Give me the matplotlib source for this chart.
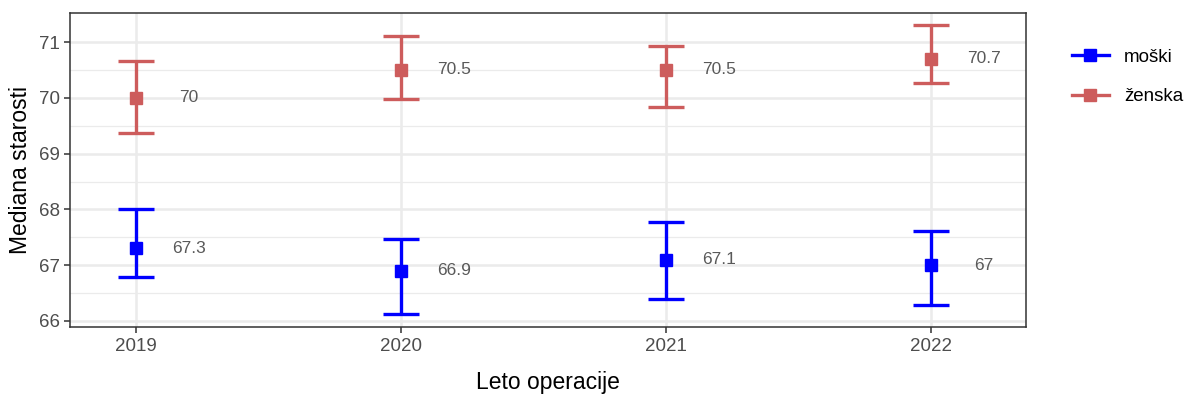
import numpy as np
import matplotlib.pyplot as plt
from matplotlib.lines import Line2D

plt.rcParams['font.family'] = ['Liberation Sans', 'DejaVu Sans']

# median age by year of operation, with interval bounds
years = [2019, 2020, 2021, 2022]
moski = [67.3, 66.9, 67.1, 67.0]
moski_lo = [66.79, 66.13, 66.40, 66.28]
moski_hi = [68.01, 67.47, 67.78, 67.61]
zenska = [70.0, 70.5, 70.5, 70.7]
zenska_lo = [69.37, 69.98, 69.84, 70.27]
zenska_hi = [70.66, 71.11, 70.93, 71.30]

blue = '#0000FF'
red = '#CD5C5C'

fig = plt.figure(figsize=(11.85, 3.96), dpi=100)
ax = fig.add_axes([0.0591, 0.174, 0.8067, 0.793])

def draw(vals, lo, hi, col):
    vals = np.array(vals)
    err = [vals - np.array(lo), np.array(hi) - vals]
    ax.errorbar(years, vals, yerr=err, fmt='s', color=col, ms=8,
                elinewidth=2.4, capsize=13, capthick=2.4, zorder=3)
    for x, v in zip(years, vals):
        ax.text(x + 0.2, v, f'{v:g}', color='#595959', fontsize=12.5,
                ha='center', va='center')

draw(moski, moski_lo, moski_hi, blue)
draw(zenska, zenska_lo, zenska_hi, red)

ax.set_xlim(2018.75, 2022.36)
ax.set_ylim(65.89, 71.52)
ax.set_xticks(years)
ax.set_xticklabels([str(y) for y in years])
ax.set_yticks([66, 67, 68, 69, 70, 71])
ax.set_yticks(np.arange(66.5, 71.5, 1), minor=True)
ax.grid(True, which='major', color='#EBEBEB', lw=1.8, zorder=0)
ax.grid(True, which='minor', axis='y', color='#EBEBEB', lw=0.9, zorder=0)
ax.set_axisbelow(True)
for s in ax.spines.values():
    s.set_color('#333333')
    s.set_linewidth(1.1)
ax.tick_params(axis='both', which='major', labelsize=13.5, labelcolor='#4D4D4D',
               color='#333333', length=4, width=1.1)
ax.tick_params(axis='y', which='minor', length=0)

ax.set_xlabel('Leto operacije', fontsize=16.5, labelpad=12)
ax.set_ylabel('Mediana starosti', fontsize=16.5, labelpad=5)

handles = [Line2D([0], [0], color=blue, marker='s', ms=8, lw=2.4),
           Line2D([0], [0], color=red, marker='s', ms=8, lw=2.4)]
fig.legend(handles, ['moški', 'ženska'], loc='upper left',
           bbox_to_anchor=(0.89, 0.92), frameon=False, fontsize=13.5,
           handlelength=2.0, labelspacing=1.2)

fig.savefig('out.png', dpi=100)
